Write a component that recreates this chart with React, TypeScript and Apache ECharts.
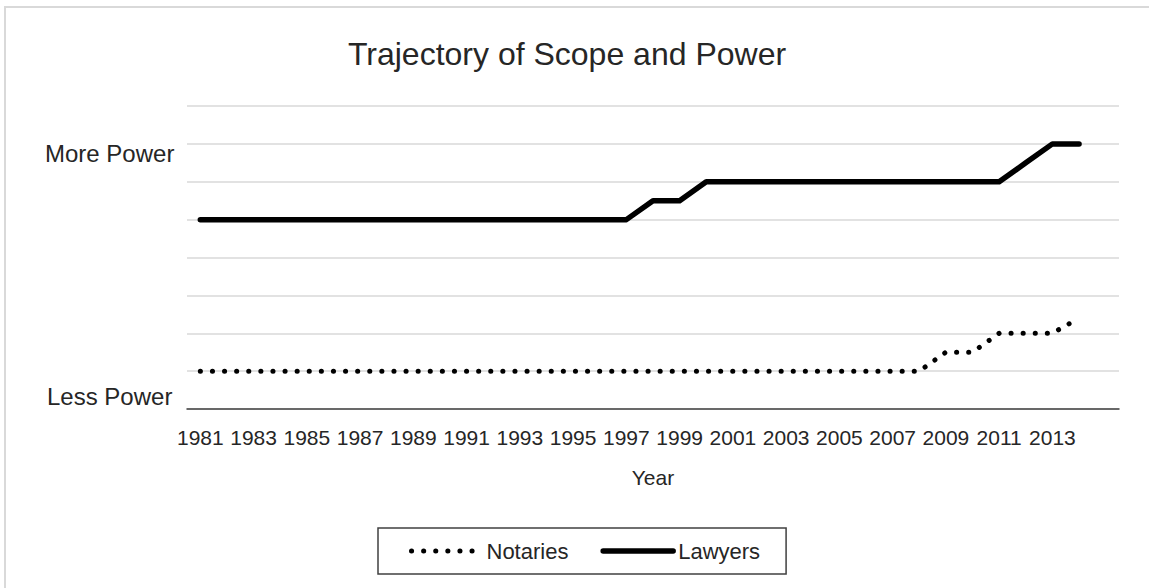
import React, { useEffect, useRef } from "react";
import * as echarts from "echarts";

const years = [
  "1981", "1982", "1983", "1984", "1985", "1986", "1987", "1988", "1989", "1990",
  "1991", "1992", "1993", "1994", "1995", "1996", "1997", "1998", "1999", "2000",
  "2001", "2002", "2003", "2004", "2005", "2006", "2007", "2008", "2009", "2010",
  "2011", "2012", "2013", "2014", "",
];

const notaries = [
  1, 1, 1, 1, 1, 1, 1, 1, 1, 1,
  1, 1, 1, 1, 1, 1, 1, 1, 1, 1,
  1, 1, 1, 1, 1, 1, 1, 1, 1.5, 1.5,
  2, 2, 2, 2.4,
];

const lawyers = [
  5, 5, 5, 5, 5, 5, 5, 5, 5, 5,
  5, 5, 5, 5, 5, 5, 5, 5.5, 5.5, 6,
  6, 6, 6, 6, 6, 6, 6, 6, 6, 6,
  6, 6.5, 7, 7,
];

const yLabels = ["More Power", "Less Power"];

const FONT = "Liberation Sans, Arial, sans-serif";
const TEXT = "#262626";
const DOTS = [0.1, 12];

export default function App() {
  const ref = useRef<HTMLDivElement>(null);

  useEffect(() => {
    document.body.style.margin = "0";
    if (!ref.current) return;
    const chart = echarts.init(ref.current, undefined, { renderer: "svg" });
    chart.setOption({
      animation: false,
      backgroundColor: "#ffffff",
      textStyle: { fontFamily: FONT },
      title: {
        text: "Trajectory of Scope and Power",
        left: 567,
        textAlign: "center",
        top: 38,
        padding: 0,
        textStyle: { fontFamily: FONT, fontSize: 32, fontWeight: "normal", color: TEXT },
      },
      grid: { left: 187, right: 30, top: 106, height: 303, containLabel: false },
      xAxis: {
        type: "category",
        data: years,
        boundaryGap: true,
        name: "Year",
        nameLocation: "middle",
        nameGap: 58,
        nameTextStyle: { fontFamily: FONT, fontSize: 21, color: TEXT },
        axisLine: { lineStyle: { color: "#404040", width: 1.5 } },
        axisTick: { show: false },
        axisLabel: {
          interval: 1,
          margin: 18,
          fontFamily: FONT,
          fontSize: 21,
          color: TEXT,
        },
        splitLine: { show: false },
      },
      yAxis: {
        type: "value",
        min: 0,
        max: 8,
        interval: 1,
        axisLabel: { show: false },
        axisLine: { show: false },
        axisTick: { show: false },
        splitLine: { lineStyle: { color: "#d9d9d9", width: 1.5 } },
      },
      legend: {
        data: [
          {
            name: "Notaries",
            itemStyle: { opacity: 0 },
            lineStyle: { color: "#000000", width: 5, type: DOTS, cap: "round" },
          },
          {
            name: "Lawyers",
            itemStyle: { opacity: 0 },
            lineStyle: { color: "#000000", width: 5.5, cap: "round" },
          },
        ],
        left: 378,
        top: 528,
        padding: [12, 26, 12, 31],
        itemWidth: 70,
        itemHeight: 14,
        itemGap: 32,
        itemStyle: { opacity: 0 },
        borderColor: "#404040",
        borderWidth: 1.5,
        textStyle: { fontFamily: FONT, fontSize: 22, color: TEXT },
      },
      graphic: [
        {
          type: "rect",
          shape: { x: 5, y: 7, width: 1300, height: 800 },
          style: { fill: "none", stroke: "#d9d9d9", lineWidth: 2 },
          silent: true,
        },
        {
          type: "text",
          x: 45,
          y: 153,
          style: {
            text: yLabels[0],
            fontFamily: FONT,
            fontSize: 24,
            fill: TEXT,
            verticalAlign: "middle",
            align: "left",
          },
        },
        {
          type: "text",
          x: 47,
          y: 396,
          style: {
            text: yLabels[1],
            fontFamily: FONT,
            fontSize: 24,
            fill: TEXT,
            verticalAlign: "middle",
            align: "left",
          },
        },
      ],
      series: [
        {
          name: "Notaries",
          type: "line",
          data: notaries,
          symbol: "none",
          showSymbol: false,
          itemStyle: { color: "#000000" },
          lineStyle: { color: "#000000", width: 5, type: DOTS, cap: "round", join: "round" },
        },
        {
          name: "Lawyers",
          type: "line",
          data: lawyers,
          symbol: "none",
          showSymbol: false,
          itemStyle: { color: "#000000" },
          lineStyle: { color: "#000000", width: 5.5, cap: "round", join: "round" },
        },
      ],
    });
    return () => chart.dispose();
  }, []);

  return <div ref={ref} style={{ width: 1149, height: 588 }} />;
}
